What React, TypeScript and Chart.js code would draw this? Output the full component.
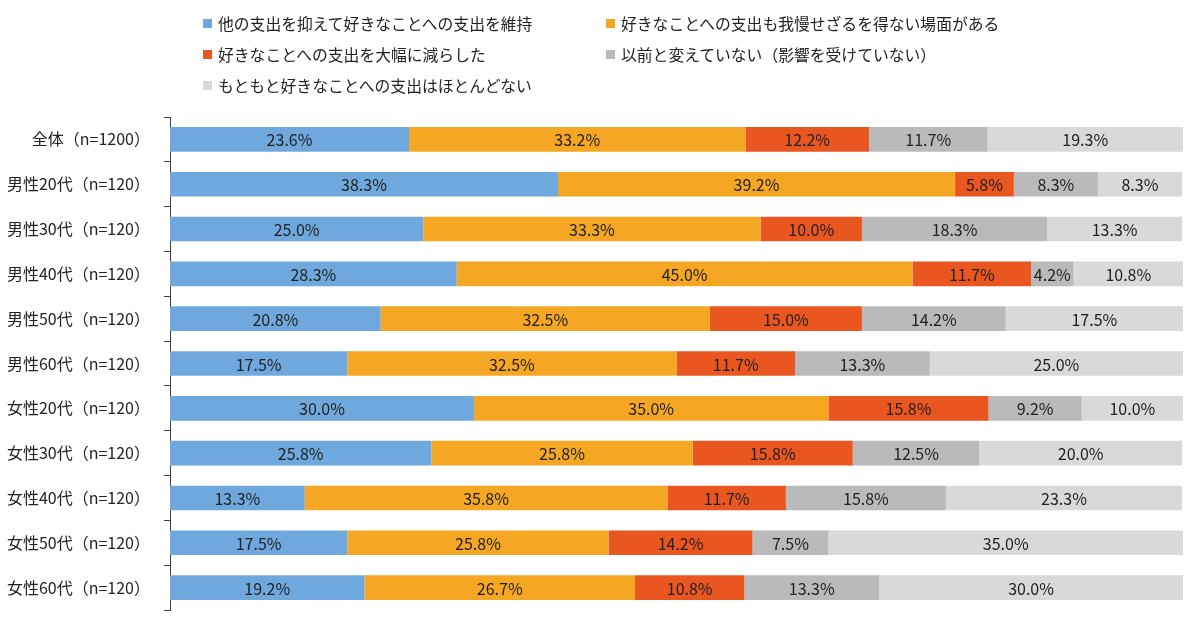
import React, { useEffect, useRef } from "react";
import { Chart, registerables } from "chart.js";

Chart.register(...registerables);

const categories = [
  "全体（n=1200）",
  "男性20代（n=120）",
  "男性30代（n=120）",
  "男性40代（n=120）",
  "男性50代（n=120）",
  "男性60代（n=120）",
  "女性20代（n=120）",
  "女性30代（n=120）",
  "女性40代（n=120）",
  "女性50代（n=120）",
  "女性60代（n=120）",
];

const seriesNames = [
  "他の支出を抑えて好きなことへの支出を維持",
  "好きなことへの支出も我慢せざるを得ない場面がある",
  "好きなことへの支出を大幅に減らした",
  "以前と変えていない（影響を受けていない）",
  "もともと好きなことへの支出はほとんどない",
];

const keepSpending = [23.6, 38.3, 25.0, 28.3, 20.8, 17.5, 30.0, 25.8, 13.3, 17.5, 19.2];
const sometimesHoldBack = [33.2, 39.2, 33.3, 45.0, 32.5, 32.5, 35.0, 25.8, 35.8, 25.8, 26.7];
const cutSharply = [12.2, 5.8, 10.0, 11.7, 15.0, 11.7, 15.8, 15.8, 11.7, 14.2, 10.8];
const unchanged = [11.7, 8.3, 18.3, 4.2, 14.2, 13.3, 9.2, 12.5, 15.8, 7.5, 13.3];
const littleToBegin = [19.3, 8.3, 13.3, 10.8, 17.5, 25.0, 10.0, 20.0, 23.3, 35.0, 30.0];

const seriesValues = [keepSpending, sometimesHoldBack, cutSharply, unchanged, littleToBegin];
const seriesColors = ["#6fa8dc", "#f5a623", "#e9561f", "#bababa", "#d9d9d9"];

const FONT = '"Noto Sans CJK JP", "Noto Sans", sans-serif';
const TEXT_COLOR = "#222222";

// Writes each segment's percentage in the middle of its bar piece.
const segmentLabels = {
  id: "segmentLabels",
  afterDatasetsDraw(chart: any) {
    const ctx = chart.ctx;
    ctx.save();
    ctx.font = `16px ${FONT}`;
    ctx.fillStyle = TEXT_COLOR;
    ctx.textAlign = "center";
    ctx.textBaseline = "middle";
    chart.data.datasets.forEach((ds: any, di: number) => {
      const meta = chart.getDatasetMeta(di);
      meta.data.forEach((el: any, i: number) => {
        const v = ds.data[i];
        const cx = (el.x + el.base) / 2;
        ctx.fillText(`${v.toFixed(1)}%`, cx, el.y + 1);
      });
    });
    ctx.restore();
  },
};

// Two-column legend grid: [row, column] for each series.
const legendSlots: [number, number][] = [
  [0, 0],
  [0, 1],
  [1, 0],
  [1, 1],
  [2, 0],
];
const legendColumnX = [203, 606];
const legendRowY = [23, 54, 85];

export default function App() {
  const canvasRef = useRef<HTMLCanvasElement | null>(null);

  useEffect(() => {
    if (!canvasRef.current) return;
    const chart = new Chart(canvasRef.current, {
      type: "bar",
      data: {
        labels: categories,
        datasets: seriesNames.map((name, i) => ({
          label: name,
          data: seriesValues[i],
          backgroundColor: seriesColors[i],
          borderWidth: 0,
          categoryPercentage: 0.55,
          barPercentage: 1,
        })),
      },
      options: {
        indexAxis: "y",
        responsive: false,
        animation: false,
        devicePixelRatio: 1,
        layout: { padding: { left: 0, right: 17, top: 117, bottom: 16 } },
        plugins: {
          legend: { display: false },
          tooltip: { enabled: false },
        },
        scales: {
          x: {
            stacked: true,
            display: false,
            min: 0,
            max: 100,
          },
          y: {
            stacked: true,
            afterFit: (scale: any) => {
              scale.width = 170;
              scale.paddingTop = 0;
              scale.paddingBottom = 0;
            },
            border: { display: true, color: "#404040", width: 1 },
            grid: {
              drawOnChartArea: false,
              drawTicks: true,
              offset: true,
              tickLength: 6,
              color: "#404040",
            },
            ticks: {
              color: TEXT_COLOR,
              padding: 14,
              font: { family: FONT, size: 16 },
            },
          },
        },
      },
      plugins: [segmentLabels],
    });
    return () => chart.destroy();
  }, []);

  return (
    <div style={{ position: "absolute", left: 0, top: 0, width: 1200, height: 626, background: "#fff" }}>
      <canvas ref={canvasRef} width={1200} height={626} style={{ position: "absolute", left: 0, top: 0 }} />
      {seriesNames.map((name, i) => {
        const [row, col] = legendSlots[i];
        return (
          <div
            key={name}
            style={{
              position: "absolute",
              left: legendColumnX[col],
              top: legendRowY[row] - 12,
              height: 24,
              display: "flex",
              alignItems: "center",
              fontFamily: FONT,
              fontSize: 15.8,
              color: TEXT_COLOR,
              whiteSpace: "nowrap",
            }}
          >
            <span
              style={{
                display: "inline-block",
                width: 9,
                height: 9,
                background: seriesColors[i],
                marginRight: 6,
              }}
            />
            <span>{name}</span>
          </div>
        );
      })}
    </div>
  );
}
